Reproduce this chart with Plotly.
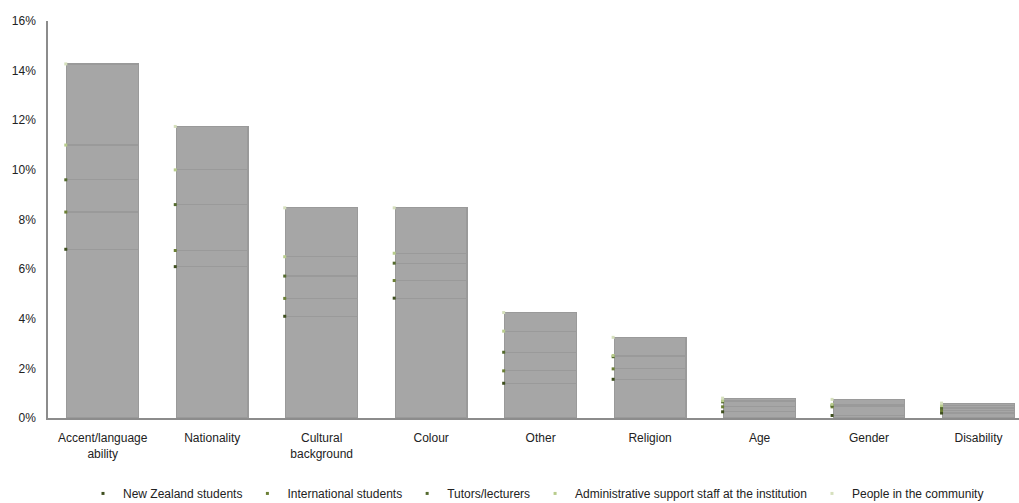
import numpy as np
import plotly.graph_objects as go

categories = ["Accent/language<br>ability", "Nationality", "Cultural<br>background", "Colour",
              "Other", "Religion", "Age", "Gender", "Disability"]
series_names = ["New Zealand students", "International students", "Tutors/lecturers",
                "Administrative support staff at the institution", "People in the community"]
nz_students = [6.8, 6.1, 4.1, 4.83, 1.4, 1.56, 0.25, 0.1, 0.2]
intl_students = [1.5, 0.65, 0.72, 0.71, 0.5, 0.42, 0.2, 0.35, 0.1]
tutors = [1.3, 1.85, 0.9, 0.7, 0.75, 0.49, 0.2, 0.05, 0.1]
admin_staff = [1.4, 1.4, 0.78, 0.4, 0.85, 0.05, 0.05, 0.05, 0.1]
community = [3.27, 1.75, 1.97, 1.83, 0.75, 0.73, 0.1, 0.2, 0.1]
tick_vals = [0, 2, 4, 6, 8, 10, 12, 14, 16]
tick_text = ["0%", "2%", "4%", "6%", "8%", "10%", "12%", "14%", "16%"]

series_values = [nz_students, intl_students, tutors, admin_staff, community]
marker_colors = ["#3f4f1f", "#6b7f35", "#556b2f", "#b8cc8c", "#d6e0bd"]
bar_grey = "#a6a6a6"

x = np.arange(len(categories))
bar_width = 0.655

fig = go.Figure()
cum = np.zeros(len(categories))
for name, vals, col in zip(series_names, series_values, marker_colors):
    vals = np.array(vals)
    fig.add_trace(go.Bar(
        x=x, y=vals, width=bar_width, name=name, showlegend=False,
        marker=dict(color=bar_grey, line=dict(color="#9a9a9a", width=1.2)),
        hoverinfo="skip"))
    cum = cum + vals
    fig.add_trace(go.Scatter(
        x=x - bar_width / 2 - 0.01, y=cum.copy(), mode="markers", name=name,
        marker=dict(symbol="square", size=3, color=col, line=dict(width=0)),
        hoverinfo="skip", cliponaxis=False))

fig.update_layout(
    barmode="stack",
    width=1019, height=503,
    margin=dict(l=48, r=0, t=21, b=85, autoexpand=False),
    paper_bgcolor="white", plot_bgcolor="white",
    font=dict(family="Liberation Sans, Arial, sans-serif", size=12, color="#222222"),
    xaxis=dict(
        tickmode="array", tickvals=list(x), ticktext=categories,
        range=[-0.5, 8.37], showgrid=False, zeroline=False, automargin=False,
        showline=True, linecolor="#8c8c8c", linewidth=1.5, ticks="",
        tickfont=dict(size=12), ticklabelstandoff=8,
    ),
    yaxis=dict(
        range=[0, 16], tickmode="array", tickvals=tick_vals, ticktext=tick_text,
        showgrid=False, zeroline=False, showline=True, linecolor="#8c8c8c",
        linewidth=1.5, ticks="", tickfont=dict(size=12), automargin=False,
        ticklabelstandoff=8,
    ),
    legend=dict(
        orientation="h", xref="container", yref="paper",
        x=0.526, xanchor="center", y=-0.19, yanchor="middle",
        font=dict(size=12, color="#222222"), traceorder="normal",
        itemwidth=30, tracegroupgap=0,
    ),
    bargap=0.345,
)

fig.write_html(
    "out.html",
    config={"displayModeBar": False},
    post_script="document.body.style.margin='0';document.body.style.overflow='hidden';",
)
